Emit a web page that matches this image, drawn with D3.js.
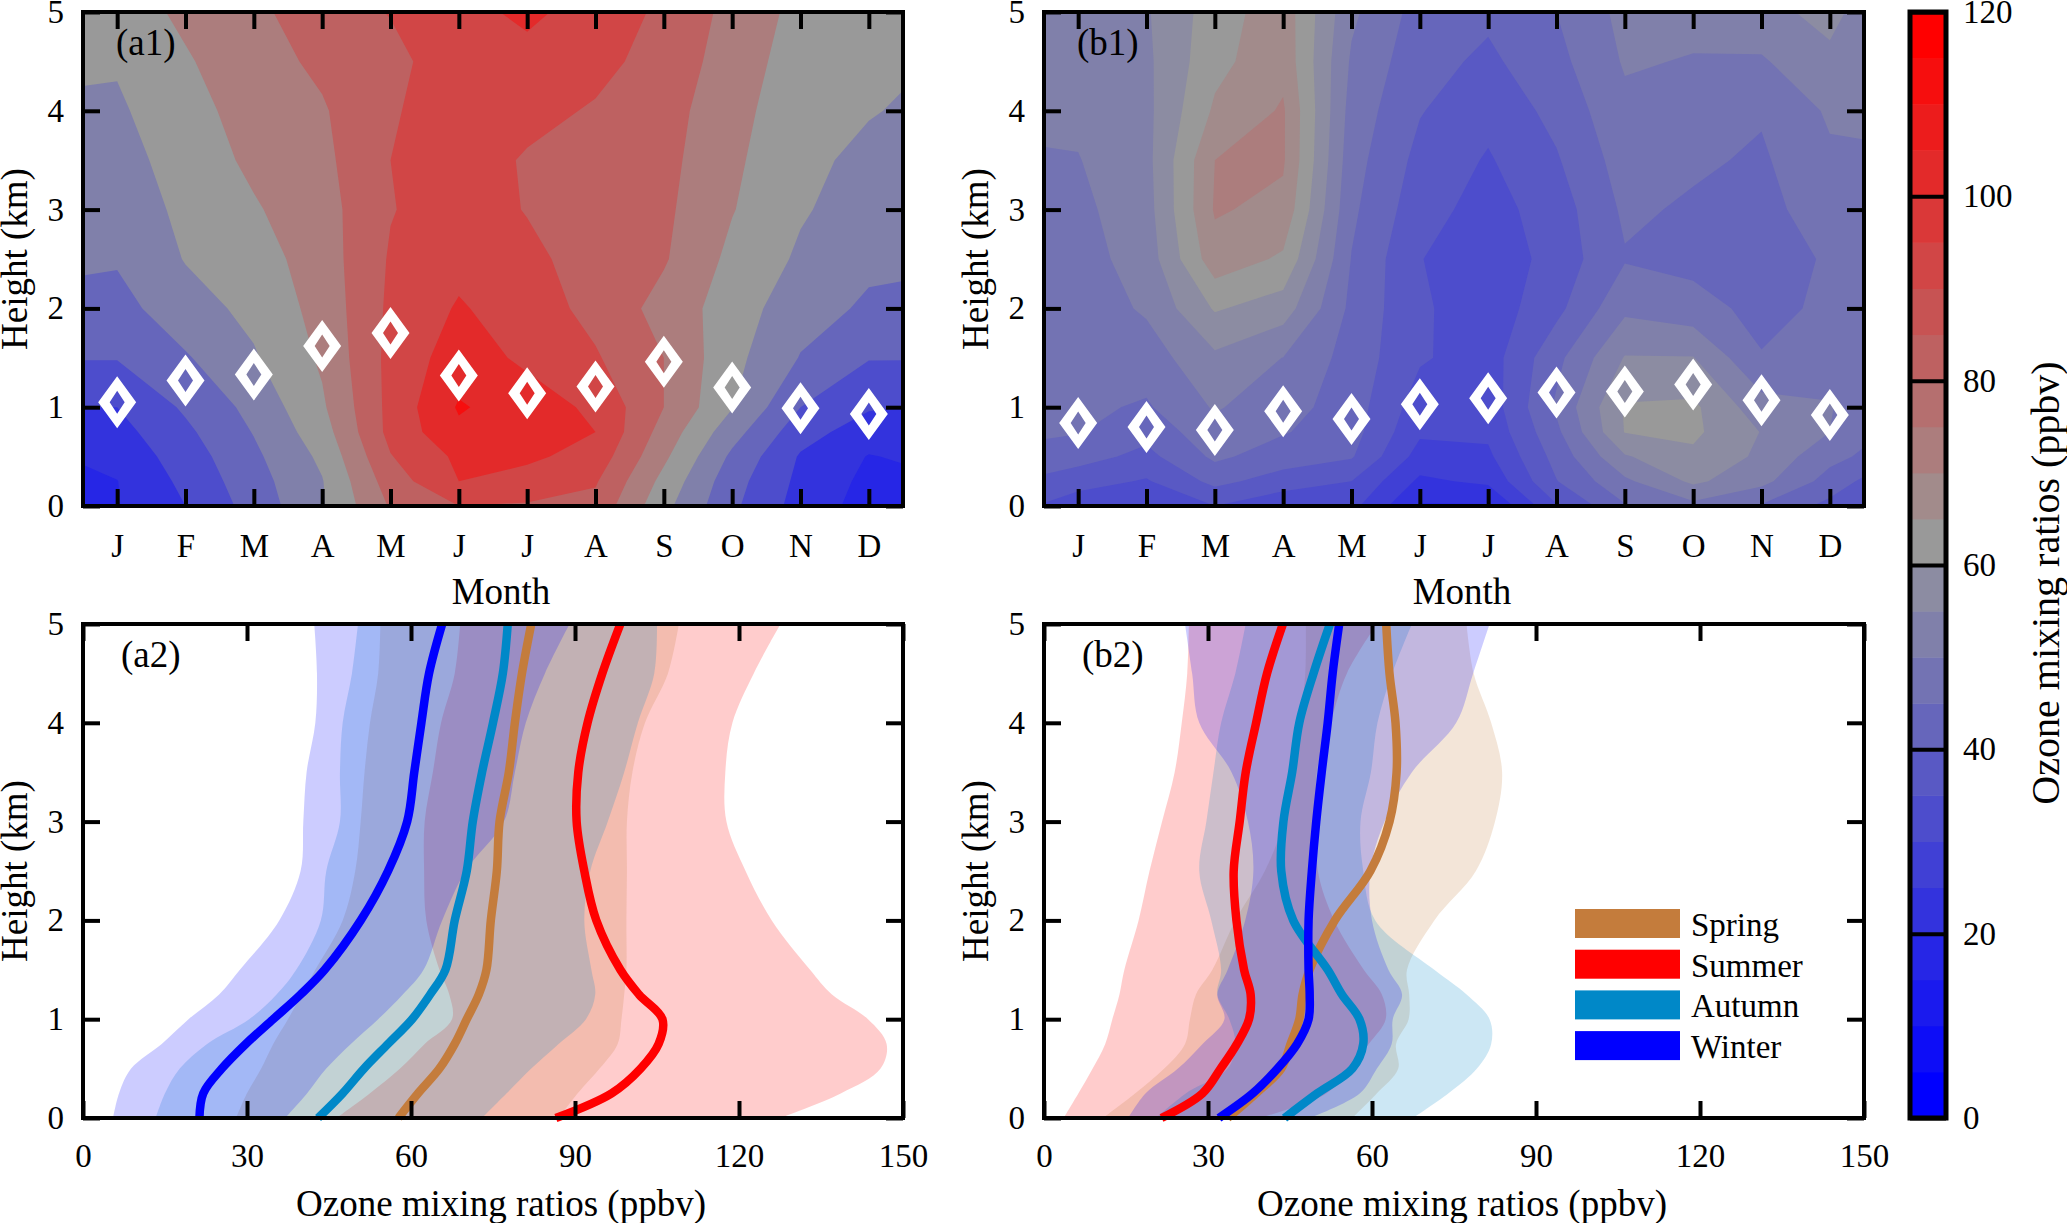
<!DOCTYPE html>
<html>
<head>
<meta charset="utf-8">
<script src="https://cdn.jsdelivr.net/npm/d3@7"></script>
<style>
    html, body { margin: 0; padding: 0; background: #fff; }
    svg text { font-family: "Liberation Serif", serif; fill: #000; }
</style>
</head>
<body>
<svg id="chart" width="2067" height="1223"></svg>
<script>
// ---- contour panels ----
const monthLabels = ['J', 'F', 'M', 'A', 'M', 'J', 'J', 'A', 'S', 'O', 'N', 'D'];
const monthTicks = [1, 2, 3, 4, 5, 6, 7, 8, 9, 10, 11, 12];
// grid columns: both plot edges plus the twelve months
const gridMonths = [0.5, 1, 2, 3, 4, 5, 6, 7, 8, 9, 10, 11, 12, 12.5];
const gridHeights = [0, 0.25, 0.5, 0.75, 1, 1.5, 2, 2.5, 3, 3.5, 4, 4.5, 5];

// ozone per grid column, bottom to top (same order as gridHeights)
const a1Columns = [
    [16, 18, 21, 25.5, 30, 40.5, 47, 51.5, 54, 56.5, 59, 61, 63],
    [19.5, 19.8, 23, 26.5, 30, 40.5, 46.5, 51, 53.5, 56, 58.5, 61, 65],
    [30, 32.5, 35, 38, 41.5, 49, 56, 60.5, 62.5, 64.5, 66.5, 69, 72],
    [44, 46, 48, 50.5, 53, 59, 62.5, 65.5, 69, 72, 74, 76, 78],
    [59, 59.5, 62, 65.5, 68.5, 71.5, 73.5, 75, 76, 77.5, 79, 82, 85],
    [81, 85, 89.5, 93, 93, 93, 92, 91, 89.5, 90, 89, 87, 90.5],
    [90, 100, 102, 108, 111, 105, 101, 97, 95, 95, 95, 96, 97],
    [89, 96, 102, 104.5, 105, 98, 95, 92.5, 89.5, 89, 93, 97, 102],
    [87, 91, 96, 100, 98, 91, 87, 85.5, 84.5, 85, 89, 93, 96],
    [63, 67, 72, 76, 80, 80, 76.5, 81, 82, 83, 84, 86, 88],
    [42, 44, 48, 54, 60.5, 63, 65, 67.5, 70.5, 72, 73.5, 75.5, 77],
    [26, 27.5, 29, 34, 40, 49.5, 54, 58.5, 61, 62, 63.5, 65, 67],
    [16, 17.5, 19.5, 25, 31, 40.5, 48.5, 52, 55.5, 58, 60.5, 62, 63.5],
    [16, 17.5, 21, 25.5, 30, 40.5, 47.5, 52, 54.5, 56.5, 59.3, 61, 62.5]
];
const b1Columns = [
    [34.5, 38.5, 43.8, 45.5, 46, 46.5, 47, 48, 48.8, 49.7, 50.8, 52, 53],
    [32, 37, 42, 45.3, 46, 46.6, 47, 48, 48.8, 49.8, 51, 52, 53],
    [30, 34.5, 38.5, 41.7, 44.4, 47.5, 50.7, 52.2, 53, 53.5, 53.7, 54, 54.5],
    [35, 41.4, 46, 48.3, 50.5, 54, 60.5, 68, 70.5, 70, 65.8, 63.5, 62.5],
    [31, 37.7, 42.5, 45.4, 47, 49.9, 57.5, 64.2, 68.7, 70.6, 70.6, 68.5, 68],
    [31.5, 35, 40.5, 42, 42.5, 43, 43.8, 44.8, 46, 47, 48, 49.3, 51],
    [19.5, 24, 28, 30.8, 32.5, 35.6, 35.8, 35.2, 37, 38.5, 40.3, 41.8, 43],
    [19.5, 26, 29, 31, 32, 32.5, 32, 31.5, 33, 34.5, 36.5, 39, 41],
    [34.5, 39.8, 41.8, 43.9, 45.8, 43.6, 38.6, 37, 37.5, 39.5, 41.5, 43.5, 45],
    [44.5, 49, 54.5, 60.2, 60.5, 55.3, 48.9, 44.6, 45.9, 47.3, 48.8, 50.5, 51.5],
    [48.5, 56, 59, 61, 61, 55.2, 46.9, 43.5, 44.3, 45.8, 47.5, 49.7, 51.5],
    [44.5, 51.5, 54, 54.8, 52, 45.3, 43.5, 43, 43.5, 44.3, 45.5, 49.5, 53],
    [38.5, 43, 46.5, 50, 50.3, 48, 46, 45.5, 47.5, 49.2, 50.7, 53.5, 57],
    [34.5, 39, 44.2, 46.3, 47.5, 47.5, 47.5, 48, 48.6, 49.5, 50.7, 51.5, 52.5]
];
const a1Levels = [15, 20, 30, 40, 50, 60, 70, 80, 90, 100, 110];
const b1Levels = [15, 20, 25, 30, 35, 40, 45, 50, 55, 60, 65, 70];

// diamond markers, km per month
const a1Markers = [1.05, 1.27, 1.33, 1.62, 1.75, 1.32, 1.14, 1.21, 1.46, 1.2, 0.99, 0.93];
const b1Markers = [0.84, 0.8, 0.77, 0.96, 0.88, 1.03, 1.09, 1.15, 1.16, 1.23, 1.07, 0.92];

// ---- seasonal profiles ----
const profileHeights = [0, 0.25, 0.5, 0.75, 1, 1.25, 1.5, 2, 2.5, 3, 3.5, 4, 4.5, 5];

const a2SpringMean = [57.7, 61.3, 65.2, 68, 70.2, 72.4, 73.8, 74.6, 75.7, 76.2, 77.9, 79, 80.3, 82];
const a2SpringLow = [28, 30, 32.6, 34.8, 37.5, 40, 42.5, 47.5, 49.8, 50.8, 51.5, 52.5, 54, 54.4];
const a2SpringHigh = [87, 90.5, 94.5, 97.8, 98.5, 99, 99.4, 99.4, 99.5, 99.5, 100.5, 102.8, 107, 109];
const a2SummerMean = [86.5, 96.7, 102, 105.3, 106, 101.7, 98.3, 93.9, 91.7, 90.3, 90.6, 92.3, 95, 98.3];
const a2SummerLow = [46.4, 52.5, 58, 62.5, 67.5, 67, 65.2, 62.8, 62.4, 62.5, 64, 65.5, 68, 69];
const a2SummerHigh = [127.6, 138.7, 145.9, 147, 143.6, 137, 133, 126, 121.2, 117.7, 117.5, 118.8, 122.7, 127.6];
const a2AutumnMean = [43, 47.5, 51.4, 55.8, 60.2, 63.5, 66.3, 68, 70.2, 71.3, 73, 75, 76.8, 77.7];
const a2AutumnLow = [13.3, 15, 17.7, 22.7, 30.4, 35.4, 39, 43.5, 44.5, 47, 47, 47.5, 49.2, 50.3];
const a2AutumnHigh = [73, 77.5, 82, 87, 92, 93.7, 93, 91.7, 92.8, 96, 99, 101.5, 104.5, 105];
const a2WinterMean = [21.3, 22, 25.4, 29.8, 34.8, 39.8, 44.2, 50.8, 55.8, 59.3, 60.6, 61.9, 63.3, 65.7];
const a2WinterLow = [5.5, 6.6, 8.8, 14.4, 19.3, 24.9, 28.7, 35.9, 39.8, 40.3, 40.9, 42.5, 42.8, 42.3];
const a2WinterHigh = [37, 41, 44.5, 49, 54, 58.5, 62.3, 65.7, 70, 77, 79, 81, 84.5, 89];

const b2SpringMean = [33.6, 38.8, 43.4, 45.1, 46.7, 47.3, 48.6, 53.2, 59.7, 63.2, 64.5, 64.3, 63.2, 62.6];
const b2SpringLow = [10.8, 16.7, 22, 25.8, 26.7, 27.8, 30.8, 35, 40.4, 43.9, 45.2, 46.8, 47.8, 47.9];
const b2SpringHigh = [56.4, 60.9, 64.8, 64.4, 66.7, 66.8, 66.4, 71.4, 79, 82.5, 83.8, 81.8, 78.6, 77.3];
const b2SummerMean = [21.5, 29, 32.3, 35.3, 37.5, 37.8, 36.6, 35.2, 34.7, 35.8, 36.9, 38.8, 40.8, 43.7];
const b2SummerLow = [3.6, 6.3, 8.9, 11.2, 12.5, 13.8, 14.7, 17.3, 19.3, 21.6, 23.9, 25.2, 26.2, 26.5];
const b2SummerHigh = [39.4, 51.7, 55.7, 59.4, 62.5, 61.8, 58.5, 53.1, 50.1, 50, 49.9, 52.4, 55.4, 60.9];
const b2AutumnMean = [44, 50, 56.4, 58.4, 57.7, 54.5, 51.9, 45.6, 43.4, 43.8, 45.4, 46.7, 49.3, 52.3];
const b2AutumnLow = [20.5, 26, 33.6, 35, 33.9, 31.7, 32.4, 30.6, 28.4, 29.7, 31, 32.4, 35, 36.9];
const b2AutumnHigh = [67.5, 74, 79.2, 81.8, 81.5, 77.3, 71.4, 60.6, 58.4, 57.9, 59.8, 61, 63.7, 67.3];
const b2WinterMean = [32, 38.2, 42.7, 46.3, 48.4, 48.6, 48.4, 48.4, 49, 49.8, 50.8, 51.9, 52.8, 54];
const b2WinterLow = [15.4, 18.6, 24.5, 29, 33, 31.7, 33.6, 36.8, 38.3, 37.3, 34.3, 28.4, 27.1, 25.8];
const b2WinterHigh = [48.6, 57.8, 60.9, 63.6, 63.8, 65.5, 63, 60, 59.7, 62.3, 67.3, 75.4, 78.5, 81.5];

const seasonNames = ['Spring', 'Summer', 'Autumn', 'Winter'];
const seasonColors = ['#c47c3c', '#ff0000', '#0088c8', '#0000ff'];

const a2Series = [
    { season: 'Summer', mean: a2SummerMean, low: a2SummerLow, high: a2SummerHigh },
    { season: 'Spring', mean: a2SpringMean, low: a2SpringLow, high: a2SpringHigh },
    { season: 'Autumn', mean: a2AutumnMean, low: a2AutumnLow, high: a2AutumnHigh },
    { season: 'Winter', mean: a2WinterMean, low: a2WinterLow, high: a2WinterHigh }
];
const b2Series = [
    { season: 'Summer', mean: b2SummerMean, low: b2SummerLow, high: b2SummerHigh },
    { season: 'Spring', mean: b2SpringMean, low: b2SpringLow, high: b2SpringHigh },
    { season: 'Autumn', mean: b2AutumnMean, low: b2AutumnLow, high: b2AutumnHigh },
    { season: 'Winter', mean: b2WinterMean, low: b2WinterLow, high: b2WinterHigh }
];

const colorbarBands = d3.range(0, 120, 5);
const colorbarTicks = [0, 20, 40, 60, 80, 100, 120];
const heightTicks = [0, 1, 2, 3, 4, 5];
const ozoneTicks = [0, 30, 60, 90, 120, 150];

// layout
const plotW = 820, plotH = 494;
const leftA = 83, leftB = 1044, topRow1 = 12, topRow2 = 624;
const tickLen = 17, frameW = 4;
const tickFont = 33, labelFont = 37;

const svg = d3.select('#chart');

// blue to grey at 60, grey to red at the top band
function bandColor(v) {
    if (v < 60) return d3.interpolateRgb('#0000ff', '#999999')(v / 60);
    return d3.interpolateRgb('#999999', '#ff0000')((v - 60) / 55);
}

function styleAxis(sel) {
    sel.select('.domain').remove();
    sel.selectAll('.tick line').attr('stroke', '#000').attr('stroke-width', frameW);
    sel.selectAll('.tick text').attr('font-size', tickFont).attr('font-family', '"Liberation Serif", serif');
}

// frame, ticks on four sides, tick labels
function drawAxes(g, x, y, xTicks, xFormat, xPadding) {
    g.append('g').attr('transform', `translate(0,${plotH})`)
        .call(d3.axisBottom(x).tickValues(xTicks).tickFormat(xFormat).tickSize(-tickLen).tickPadding(xPadding))
        .call(styleAxis);
    g.append('g')
        .call(d3.axisTop(x).tickValues(xTicks).tickFormat('').tickSize(-tickLen))
        .call(styleAxis);
    g.append('g')
        .call(d3.axisLeft(y).tickValues(heightTicks).tickFormat(d3.format('d')).tickSize(-tickLen).tickPadding(19))
        .call(styleAxis);
    g.append('g').attr('transform', `translate(${plotW},0)`)
        .call(d3.axisRight(y).tickValues(heightTicks).tickFormat('').tickSize(-tickLen))
        .call(styleAxis);
    g.append('rect')
        .attr('width', plotW).attr('height', plotH)
        .attr('fill', 'none').attr('stroke', '#000').attr('stroke-width', frameW);
}

function drawLabels(g, name, nameX, xTitle, xTitleY) {
    g.append('text').attr('x', 418).attr('y', xTitleY)
        .attr('text-anchor', 'middle').attr('font-size', labelFont).text(xTitle);
    g.append('text')
        .attr('transform', `translate(-56,${plotH / 2}) rotate(-90)`)
        .attr('text-anchor', 'middle').attr('font-size', labelFont).text('Height (km)');
    g.append('text').attr('x', nameX).attr('y', 43).attr('font-size', labelFont).text(name);
}

function drawContourPanel(left, name, columns, levels, markers) {
    const g = svg.append('g').attr('transform', `translate(${left},${topRow1})`);
    const x = d3.scaleLinear().domain([0.5, 12.5]).range([0, plotW]);
    const y = d3.scaleLinear().domain([0, 5]).range([plotH, 0]);

    const nx = gridMonths.length, ny = gridHeights.length;
    const values = [];
    for (let j = 0; j < ny; j++) {
        for (let i = 0; i < nx; i++) values.push(columns[i][j]);
    }
    // d3.contours puts value i at i + 0.5, take it back to months and km
    const colToMonth = d3.scaleLinear().domain(d3.range(nx)).range(gridMonths).clamp(true);
    const rowToHeight = d3.scaleLinear().domain(d3.range(ny)).range(gridHeights).clamp(true);
    const path = d3.geoPath(d3.geoTransform({
        point(px, py) {
            this.stream.point(x(colToMonth(px - 0.5)), y(rowToHeight(py - 0.5)));
        }
    }));

    g.selectAll('.band')
        .data(d3.contours().size([nx, ny]).thresholds(levels)(values))
        .enter().append('path')
        .attr('class', 'band')
        .attr('d', path)
        .attr('fill', d => bandColor(d.value))
        .attr('fill-rule', 'evenodd');

    drawAxes(g, x, y, monthTicks, (d, i) => monthLabels[i], 28);

    // white hollow diamonds
    g.selectAll('.marker')
        .data(markers)
        .enter().append('path')
        .attr('class', 'marker')
        .attr('transform', (d, i) => `translate(${x(monthTicks[i])},${y(d)})`)
        .attr('d', 'M0,-26L19,0L0,26L-19,0ZM0,-11.5L-7.5,0L0,11.5L7.5,0Z')
        .attr('fill', '#fff')
        .attr('fill-rule', 'evenodd');

    drawLabels(g, name, 33, 'Month', 592);
}

function drawProfilePanel(left, name, series) {
    const g = svg.append('g').attr('transform', `translate(${left},${topRow2})`);
    const x = d3.scaleLinear().domain([0, 150]).range([0, plotW]);
    const y = d3.scaleLinear().domain([0, 5]).range([plotH, 0]);
    const color = d3.scaleOrdinal().domain(seasonNames).range(seasonColors);

    const area = d3.area()
        .curve(d3.curveCatmullRom)
        .y((d, i) => y(profileHeights[i]));
    series.forEach(s => {
        g.append('path')
            .attr('d', area.x0((d, i) => x(s.low[i])).x1((d, i) => x(s.high[i]))(s.mean))
            .attr('fill', color(s.season))
            .attr('fill-opacity', 0.2);
    });

    const line = d3.line()
        .curve(d3.curveCatmullRom)
        .x(d => x(d))
        .y((d, i) => y(profileHeights[i]));
    seasonNames.forEach(nm => {
        const s = series.find(d => d.season === nm);
        g.append('path')
            .attr('d', line(s.mean))
            .attr('fill', 'none')
            .attr('stroke', color(nm))
            .attr('stroke-width', 8.5);
    });

    drawAxes(g, x, y, ozoneTicks, d3.format('d'), 26);
    drawLabels(g, name, 38, 'Ozone mixing ratios (ppbv)', 1216 - topRow2);
}

drawContourPanel(leftA, '(a1)', a1Columns, a1Levels, a1Markers);
drawContourPanel(leftB, '(b1)', b1Columns, b1Levels, b1Markers);
drawProfilePanel(leftA, '(a2)', a2Series);
drawProfilePanel(leftB, '(b2)', b2Series);

// legend in b2
const legend = svg.append('g').attr('transform', 'translate(1575,909)');
seasonNames.forEach((nm, i) => {
    legend.append('rect').attr('x', 0).attr('y', i * 40.7).attr('width', 105).attr('height', 29)
        .attr('fill', seasonColors[i]);
    legend.append('text').attr('x', 116).attr('y', i * 40.7 + 27)
        .attr('font-size', tickFont).text(nm);
});

// colorbar
const cbar = svg.append('g').attr('transform', 'translate(1910,12)');
const cbarW = 36, cbarH = 1106;
const cbarY = d3.scaleLinear().domain([0, 120]).range([cbarH, 0]);
cbar.selectAll('.cband')
    .data(colorbarBands)
    .enter().append('rect')
    .attr('class', 'cband')
    .attr('width', cbarW)
    .attr('y', d => cbarY(d + 5))
    .attr('height', d => cbarY(d) - cbarY(d + 5) + 0.5)
    .attr('fill', d => bandColor(d));
cbar.append('g').attr('transform', `translate(${cbarW},0)`)
    .call(d3.axisRight(cbarY).tickValues(colorbarTicks).tickFormat(d3.format('d')).tickSize(-cbarW).tickPadding(17))
    .call(styleAxis);
cbar.append('rect')
    .attr('width', cbarW).attr('height', cbarH)
    .attr('fill', 'none').attr('stroke', '#000').attr('stroke-width', frameW + 1);
cbar.append('text')
    .attr('transform', `translate(149,${cbarH / 2 + 18}) rotate(-90)`)
    .attr('text-anchor', 'middle').attr('font-size', 40).text('Ozone mixing ratios (ppbv)');
</script>
</body>
</html>
